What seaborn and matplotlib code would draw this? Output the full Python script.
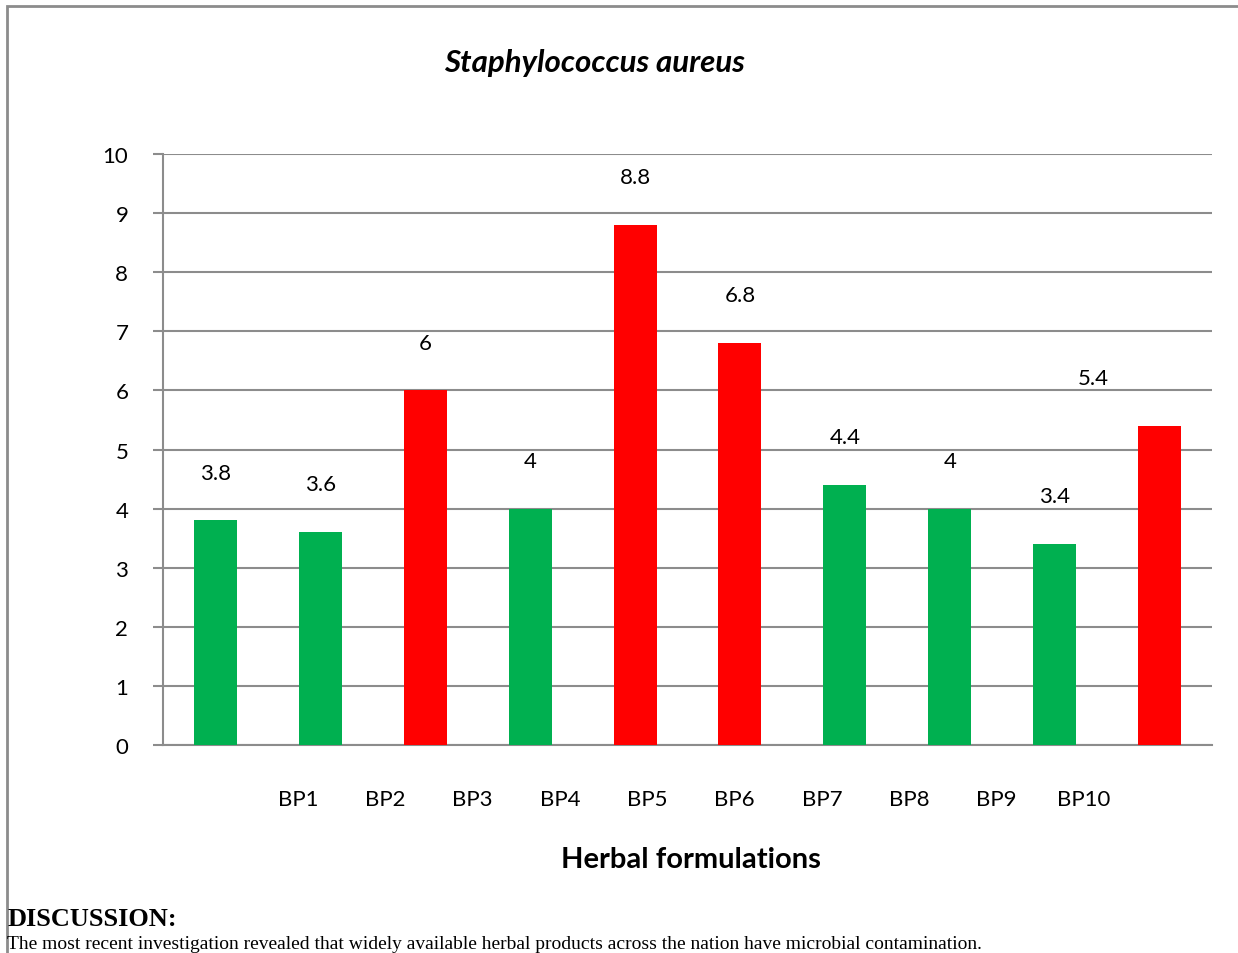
import numpy as np
import pandas as pd
import seaborn as sns
import matplotlib.pyplot as plt
from matplotlib.patches import Rectangle

# data
formulations = ["BP1", "BP2", "BP3", "BP4", "BP5", "BP6", "BP7", "BP8", "BP9", "BP10"]
zone_values = [3.8, 3.6, 6, 4, 8.8, 6.8, 4.4, 4, 3.4, 5.4]
bar_colors = ["#00B050", "#00B050", "#FF0000", "#00B050", "#FF0000",
              "#FF0000", "#00B050", "#00B050", "#00B050", "#FF0000"]
y_ticks = list(range(0, 11))

sns.set_style("white")
plt.rcParams['font.family'] = ['Lato', 'DejaVu Sans']
plt.rcParams['text.color'] = 'black'
plt.rcParams['ytick.labelcolor'] = 'black'

df = pd.DataFrame({"formulation": formulations, "value": zone_values})

fig = plt.figure(figsize=(12.38, 9.54), dpi=100)
ax = fig.add_axes([0.1317, 0.218, 0.8473, 0.6195])

sns.barplot(data=df, x="formulation", y="value", hue="formulation",
            palette=bar_colors, legend=False, width=0.41, saturation=1,
            linewidth=0, ax=ax, zorder=3)

ax.set_xlim(-0.5, len(formulations) - 0.5)
ax.set_ylim(0, 10)
ax.set_yticks(y_ticks)
ax.set_yticklabels([str(t) for t in y_ticks], fontsize=16)
ax.tick_params(axis="y", length=7, width=1.5, color="#8c8c8c", pad=18, left=True)
ax.tick_params(axis="x", bottom=False, labelbottom=False)
ax.set_xlabel("")
ax.set_ylabel("")
ax.grid(axis="y", color="#8c8c8c", linewidth=1.5, zorder=0)
ax.set_axisbelow(True)
for side in ["top", "right"]:
    ax.spines[side].set_visible(False)
for side in ["left", "bottom"]:
    ax.spines[side].set_color("#8c8c8c")
    ax.spines[side].set_linewidth(1.5)

# value labels above bars (last one sits shifted left in the reference)
for i, v in enumerate(zone_values):
    dx = -48 if i == len(zone_values) - 1 else 0
    ax.annotate(str(v), (i, v), xytext=(dx, 34.5), textcoords="offset points",
                ha="center", va="center", fontsize=16)

# category labels drawn offset from the bars, as in the reference
label_x = 0.787 + 0.8326 * np.arange(len(formulations))
for x, name in zip(label_x, formulations):
    ax.text(x, -0.0914, name, transform=ax.get_xaxis_transform(),
            ha="center", va="center", fontsize=16)

fig.text(0.48, 0.934, "Staphylococcus aureus", ha="center", va="center",
         fontsize=22.5, fontweight="bold", fontstyle="italic")
fig.text(0.558, 0.0985, "Herbal formulations", ha="center", va="center",
         fontsize=21, fontweight="bold")

# page elements around the chart
fig.patches.append(Rectangle((0.0057, -0.2), 1.2, 1.1927, transform=fig.transFigure,
                             fill=False, edgecolor="#8c8c8c", linewidth=2))
fig.text(0.006, 0.036, "DISCUSSION:", ha="left", va="center", fontsize=19,
         fontweight="bold", family=["Liberation Serif"])
fig.text(0.006, 0.001, "The most recent investigation revealed that widely available herbal products across the nation have microbial contamination.",
         ha="left", va="bottom", fontsize=14, family=["Liberation Serif"])

fig.savefig("out.png", dpi=100)
